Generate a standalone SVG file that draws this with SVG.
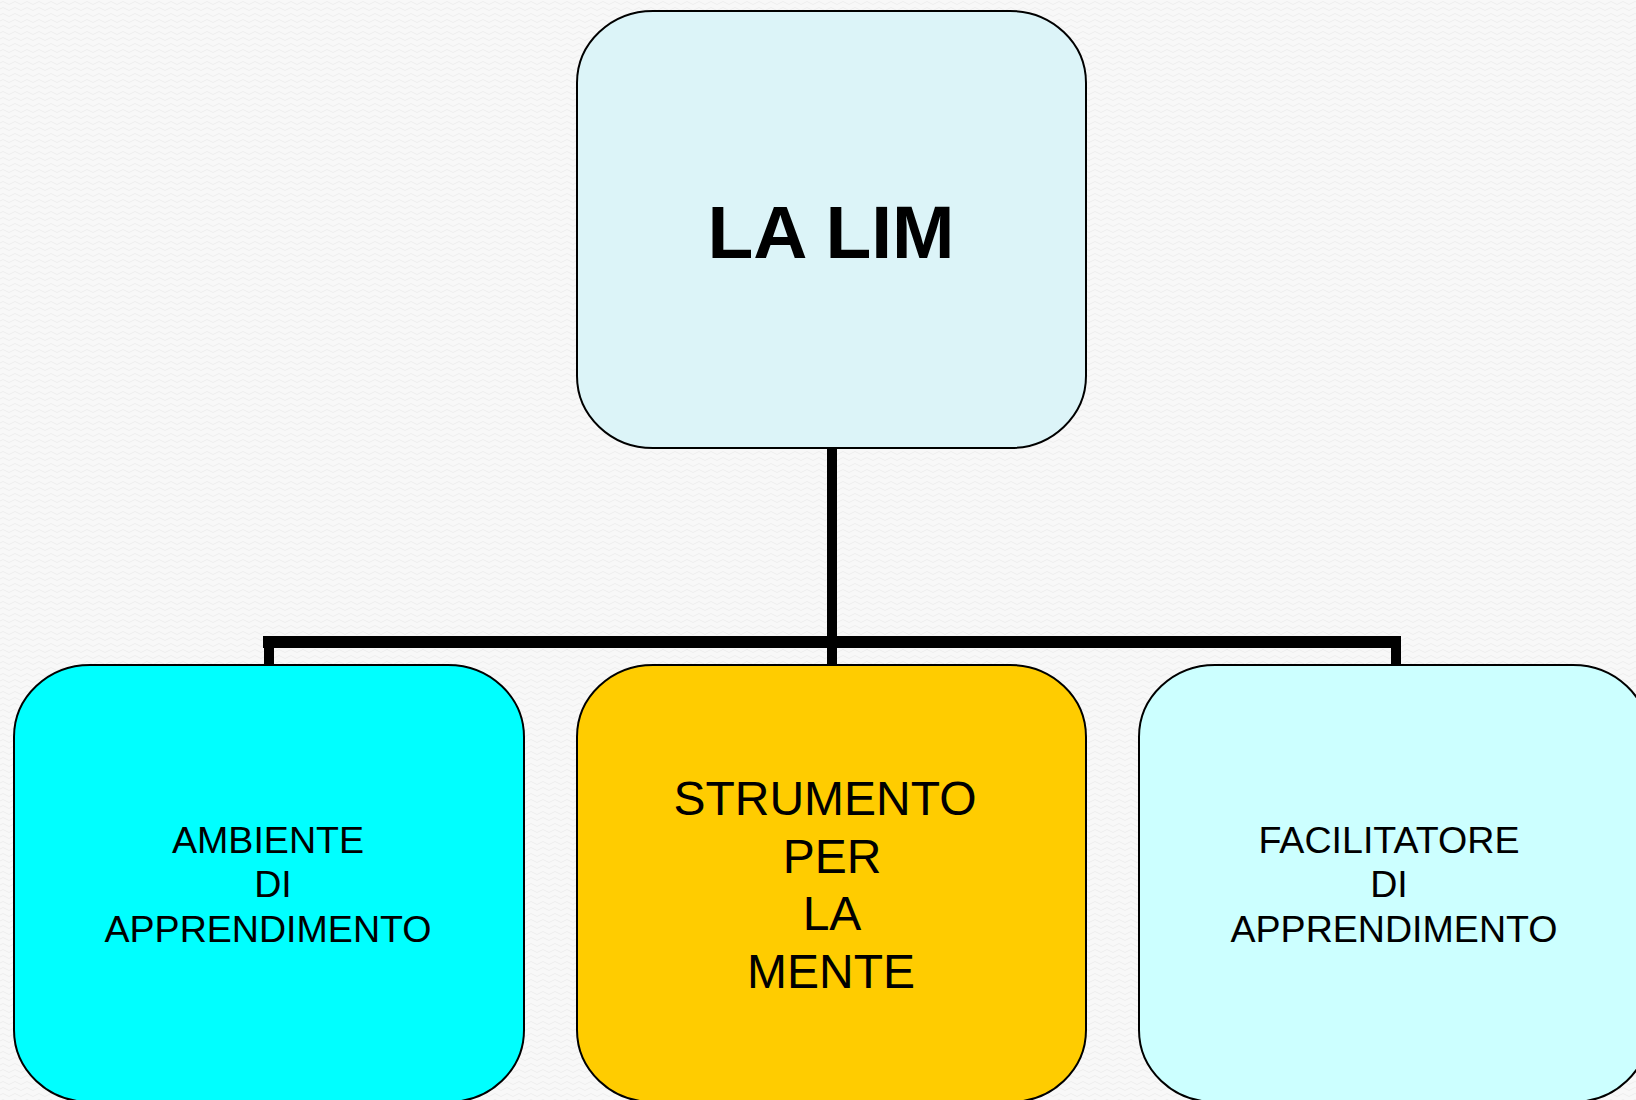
<svg xmlns="http://www.w3.org/2000/svg" width="1636" height="1100" viewBox="0 0 1636 1100">
<style>
.box{stroke:#000;stroke-width:2}
.t{font-family:"Liberation Sans",Arial,sans-serif;fill:#000;text-anchor:middle}
.conn{stroke:#000;fill:none;stroke-linecap:butt}
</style>
<defs>
<pattern id="wave" width="12" height="6" patternUnits="userSpaceOnUse">
<path d="M0 3 Q3 0 6 3 T12 3" fill="none" stroke="#eeeeee" stroke-width="1"/>
</pattern>
</defs>
<rect width="1636" height="1100" fill="#f8f8f8"/>
<rect width="1636" height="1100" fill="url(#wave)"/>
<g id="connectors">
<line class="conn" x1="832" y1="448" x2="832" y2="642" stroke-width="10"/>
<line class="conn" x1="263" y1="642" x2="1401" y2="642" stroke-width="12"/>
<line class="conn" x1="269" y1="642" x2="269" y2="666" stroke-width="10"/>
<line class="conn" x1="832" y1="642" x2="832" y2="666" stroke-width="10"/>
<line class="conn" x1="1396" y1="642" x2="1396" y2="666" stroke-width="10"/>
</g>
<g id="node-lalim">
<rect class="box" x="577" y="11" width="509" height="437" rx="76" ry="72" fill="#dcf4f8"/>
<text class="t" x="831" y="258" font-size="75" font-weight="bold">LA LIM</text>
</g>
<g id="node-ambiente">
<rect class="box" x="14" y="665" width="510" height="437" rx="76" ry="72" fill="#00ffff"/>
<text class="t" font-size="37.6"><tspan x="268" y="853">AMBIENTE</tspan><tspan x="273" y="897">DI</tspan><tspan x="268" y="942">APPRENDIMENTO</tspan></text>
</g>
<g id="node-strumento">
<rect class="box" x="577" y="665" width="509" height="437" rx="76" ry="72" fill="#ffcc00"/>
<text class="t" font-size="48"><tspan x="825" y="815">STRUMENTO</tspan><tspan x="832" y="873">PER</tspan><tspan x="832" y="930">LA</tspan><tspan x="831" y="988">MENTE</tspan></text>
</g>
<g id="node-facilitatore">
<rect class="box" x="1139" y="665" width="510" height="437" rx="76" ry="72" fill="#ccffff"/>
<text class="t" font-size="37.6"><tspan x="1389" y="853">FACILITATORE</tspan><tspan x="1389" y="897">DI</tspan><tspan x="1394" y="942">APPRENDIMENTO</tspan></text>
</g>
</svg>
